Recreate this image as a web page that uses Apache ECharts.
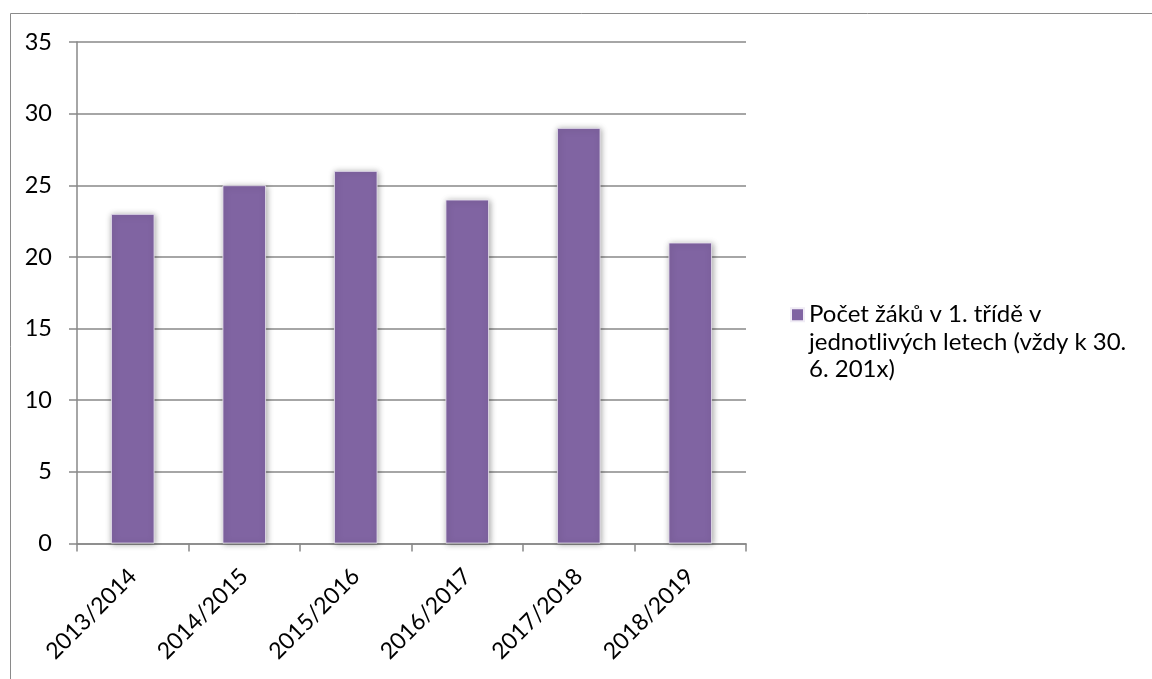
<!DOCTYPE html>
<html>
<head>
<meta charset="utf-8">
<script src="https://cdn.jsdelivr.net/npm/echarts@6/dist/echarts.min.js"></script>
<style>html,body{margin:0;padding:0;background:#fff}#c{width:1152px;height:679px}</style>
</head>
<body>
<div id="c"></div>
<script>
var categories = ['2013/2014', '2014/2015', '2015/2016', '2016/2017', '2017/2018', '2018/2019'];
var values = [23, 25, 26, 24, 29, 21];
var seriesName = 'Počet žáků v 1. třídě v jednotlivých letech (vždy k 30. 6. 201x)';
var legendLines = ['Počet žáků v 1. třídě v', 'jednotlivých letech (vždy k 30.', '6. 201x)'];

var FONT = 'Lato';
var chart = echarts.init(document.getElementById('c'));
chart.setOption({
  animation: false,
  backgroundColor: '#fff',
  graphic: [{
    type: 'rect', left: 8, top: 11, silent: true,
    shape: { x: 0.5, y: 0.5, width: 1300, height: 800 },
    style: { fill: 'none', stroke: '#8a8a8a', lineWidth: 1 }
  }],
  grid: { left: 77, right: 406, top: 42, bottom: 135.5, containLabel: false },
  legend: {
    left: 790, top: 246, padding: 0,
    orient: 'vertical',
    itemWidth: 13, itemHeight: 13,
    icon: 'rect',
    data: [seriesName],
    formatter: function () { return '\n\n' + legendLines.join('\n'); },
    textStyle: { fontFamily: FONT, fontSize: 24, color: '#000', lineHeight: 27.5 }
  },
  xAxis: {
    type: 'category', data: categories,
    axisLine: { lineStyle: { color: '#888', width: 1.5 } },
    axisTick: { show: true, length: 8, alignWithLabel: false, lineStyle: { color: '#888', width: 1.5 } },
    axisLabel: { rotate: 45, margin: 29, fontFamily: FONT, fontSize: 23, color: '#000', interval: 0 }
  },
  yAxis: {
    type: 'value', min: 0, max: 35, interval: 5,
    axisLine: { show: true, lineStyle: { color: '#888', width: 1.5 } },
    axisTick: { show: true, length: 8, lineStyle: { color: '#888', width: 1.5 } },
    axisLabel: { margin: 25, fontFamily: FONT, fontSize: 23.5, color: '#000' },
    splitLine: { show: true, lineStyle: { color: '#888', width: 1.5 } }
  },
  series: [{
    name: seriesName, type: 'bar', data: values, barWidth: '39%',
    itemStyle: {
      color: '#8064A2', borderColor: '#f0ecf5', borderWidth: 0.8,
      shadowBlur: 6, shadowColor: 'rgba(0,0,0,0.35)', shadowOffsetX: 1, shadowOffsetY: 1
    }
  }]
});
</script>
</body>
</html>
